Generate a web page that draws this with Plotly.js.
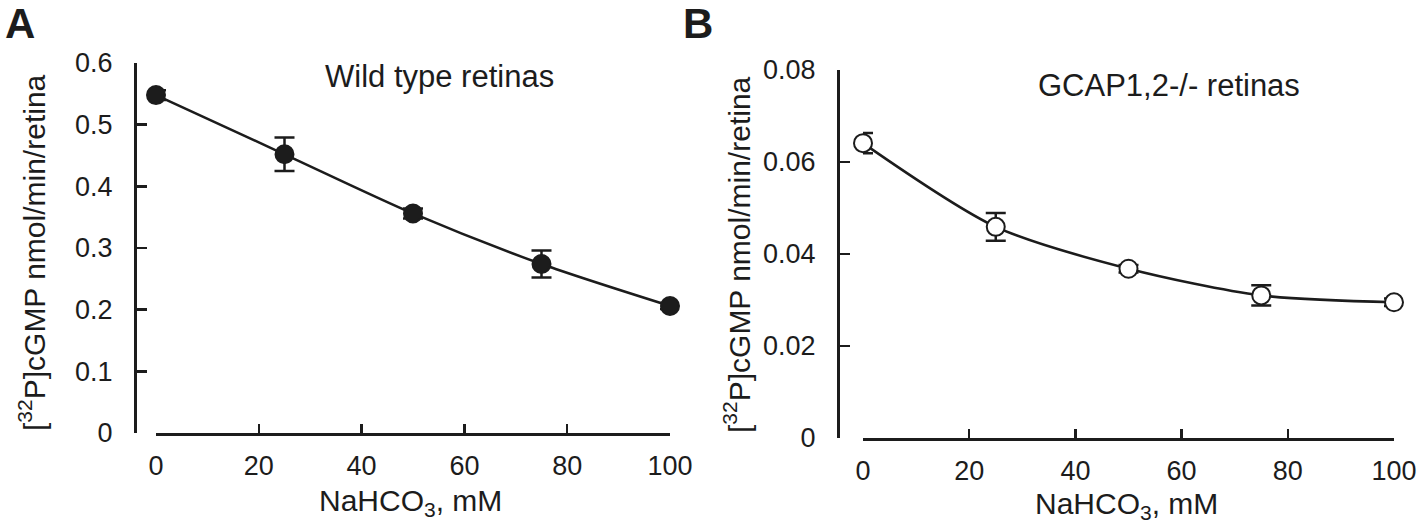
<!DOCTYPE html>
<html>
<head>
<meta charset="utf-8">
<script src="https://cdn.plot.ly/plotly-3.0.1.min.js"></script>
<style>
  html, body { margin: 0; padding: 0; background: #fff; }
  #chart { width: 1418px; height: 526px; }
</style>
</head>
<body>
<div id="chart"></div>
<script>
  // NaHCO3 concentration, mM
  const bicarbonate = [0, 25, 50, 75, 100];

  // Panel A: wild type retinas
  const wildType = [0.548, 0.452, 0.356, 0.274, 0.206];
  const wildTypeErr = [0.008, 0.027, 0.008, 0.022, 0.005];

  // Panel B: GCAP1,2-/- retinas
  const gcapKnockout = [0.0641, 0.0459, 0.0368, 0.0310, 0.0295];
  const gcapKnockoutErr = [0.0022, 0.003, 0.0008, 0.0022, 0.0008];

  const FONT = "Liberation Sans, Arial, sans-serif";
  const INK = "#1c1c1c";
  const W = 1418;
  const H = 526;

  // pixel helpers, the reference was measured in pixels
  const px = (v) => v / W;
  const py = (v) => 1 - v / H;

  function series(x, y, err, xaxis, yaxis, filled) {
    return {
      x: x,
      y: y,
      xaxis: xaxis,
      yaxis: yaxis,
      type: "scatter",
      mode: "lines+markers",
      cliponaxis: false,
      line: { color: INK, width: 2.5, shape: "spline", smoothing: 0.8 },
      marker: {
        size: 18,
        color: filled ? INK : "#ffffff",
        line: { color: INK, width: 2 },
      },
      error_y: { type: "data", array: err, visible: true, color: INK, thickness: 2.5, width: 10 },
      hoverinfo: "skip",
    };
  }

  const traces = [
    series(bicarbonate, wildType, wildTypeErr, "x", "y", true),
    series(bicarbonate, gcapKnockout, gcapKnockoutErr, "x2", "y2", false),
  ];

  const tickFont = { family: FONT, size: 27, color: INK };

  function xAxis(domain, anchor) {
    return {
      domain: domain,
      anchor: anchor,
      range: [0, 100],
      dtick: 20,
      showgrid: false,
      zeroline: false,
      showline: true,
      linecolor: INK,
      linewidth: 2.5,
      ticks: "inside",
      ticklen: 9,
      tickwidth: 2.5,
      tickcolor: INK,
      tickfont: tickFont,
      ticklabelstandoff: 7,
      fixedrange: true,
    };
  }

  function yAxis(domain, position, top, step) {
    return {
      domain: domain,
      anchor: "free",
      position: position,
      range: [0, top],
      dtick: step,
      showgrid: false,
      zeroline: false,
      showline: true,
      linecolor: INK,
      linewidth: 2.5,
      ticks: "inside",
      ticklen: 10,
      tickwidth: 2.5,
      tickcolor: INK,
      tickfont: tickFont,
      ticklabelstandoff: 16,
      fixedrange: true,
    };
  }

  const yTitle = "[<sup>32</sup>P]cGMP nmol/min/retina";
  const xTitle = "NaHCO<sub>3</sub>, mM";

  function label(text, x, y, size, extra) {
    return Object.assign({
      xref: "paper",
      yref: "paper",
      x: x,
      y: y,
      text: text,
      showarrow: false,
      xanchor: "center",
      yanchor: "middle",
      font: { family: FONT, size: size, color: INK },
    }, extra || {});
  }

  const layout = {
    width: W,
    height: H,
    margin: { l: 0, r: 0, t: 0, b: 0 },
    paper_bgcolor: "#ffffff",
    plot_bgcolor: "#ffffff",
    showlegend: false,
    xaxis: xAxis([px(156), px(670)], "y"),
    yaxis: yAxis([py(433), py(63)], px(135), 0.6, 0.1),
    xaxis2: xAxis([px(863), px(1394)], "y2"),
    yaxis2: yAxis([py(438), py(70)], px(838), 0.08, 0.02),
    annotations: [
      label("<b>A</b>", px(20), py(24), 42),
      label("<b>B</b>", px(698), py(24), 42),
      label("Wild type retinas", px(439), py(76), 31),
      label("GCAP1,2-/- retinas", px(1169), py(86), 31),
      label(xTitle, px(410), py(502), 30),
      label(xTitle, px(1126), py(505), 30),
      label(yTitle, px(32), py(253), 30, { textangle: -90 }),
      label(yTitle, px(737), py(255), 30, { textangle: -90 }),
    ],
  };

  Plotly.newPlot("chart", traces, layout, { displayModeBar: false, staticPlot: true });
</script>
</body>
</html>
